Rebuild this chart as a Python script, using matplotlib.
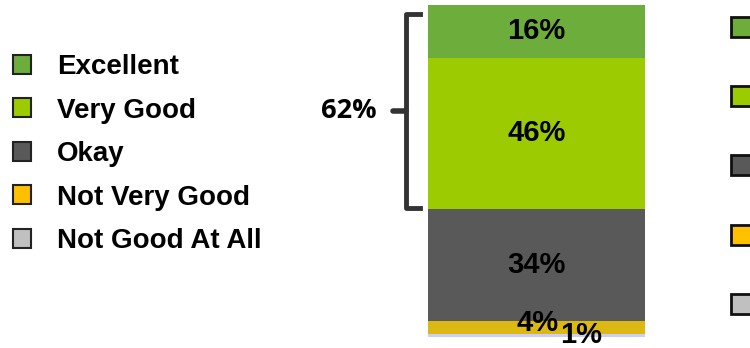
import matplotlib.pyplot as plt
from matplotlib.patches import Patch, Rectangle

categories = ['Excellent', 'Very Good', 'Okay', 'Not Very Good', 'Not Good At All']
values = [16, 46, 34, 4, 1]
bar_colors = ['#6DAD3C', '#9BCB00', '#595959', '#DCB812', '#CCCCFF']
key_colors = ['#6DAD3C', '#9BCB00', '#595959', '#FFC000', '#C0C0C0']
top_two = values[0] + values[1]

W, H = 750, 348
fig = plt.figure(figsize=(7.5, 3.48), dpi=100)
ax = fig.add_axes([428 / W, 11 / H, 217 / W, 332 / H])

# stack from the bottom category upwards
bottom = 0
centers = {}
for cat, val, col in reversed(list(zip(categories, values, bar_colors))):
    ax.bar(0, val, bottom=bottom, width=1.0, color=col, edgecolor='none')
    centers[cat] = bottom + val / 2
    bottom += val

ax.set_xlim(-0.5, 0.5)
ax.set_ylim(0, sum(values))
ax.axis('off')

font = dict(family='Liberation Sans', weight='bold', size=21)
offsets = {'Not Very Good': (1, 3), 'Not Good At All': (32, 0)}
for cat, val in zip(categories, values):
    dx, dy = offsets.get(cat, (0, 0))
    ax.annotate(f'{val}%', (0, centers[cat]), xytext=(dx, dy),
                textcoords='offset points', ha='center', va='center',
                annotation_clip=False, **font)

# bracket around the top two categories
tr = ax.get_yaxis_transform()
lo = values[-1] + values[-2] + values[-3] + 0.2
hi = sum(values) - 2.8
xl, xr = -0.100, -0.036
ax.plot([xr, xl, xl, xr], [hi, hi, lo, lo], transform=tr, color='#333333',
        lw=3.5, solid_joinstyle='round', clip_on=False)
ymid = (lo + hi) / 2
ax.plot([-0.163, xl], [ymid, ymid], transform=tr, color='#333333', lw=4,
        solid_capstyle='round', clip_on=False)
ax.text(-0.235, ymid, f'{top_two}%', transform=tr, ha='right', va='center',
        family='Open Sans', weight='bold', size=19.5)

# left key
handles = [Patch(facecolor=c, edgecolor='#222222', lw=1.5) for c in key_colors]
fig.legend(handles, categories, loc='upper left', bbox_to_anchor=(2 / W, 1 - 43 / H),
           frameon=False, prop=dict(family='Liberation Sans', weight='bold', size=20),
           handlelength=0.66, handleheight=0.66, handletextpad=0.92, labelspacing=0.63,
           borderaxespad=0)

# right key, cut off at the figure edge
for i, c in enumerate(key_colors):
    yc = 27 + i * 69.2
    fig.add_artist(Rectangle((731 / W, 1 - (yc + 10) / H), 20 / W, 20 / H,
                             transform=fig.transFigure, facecolor=c,
                             edgecolor='#111111', lw=2, clip_on=False))

fig.savefig('out.png', dpi=100)
